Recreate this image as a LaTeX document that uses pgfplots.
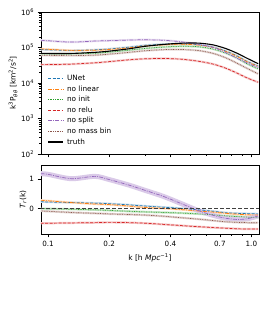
\documentclass[border=0pt]{standalone}
\usepackage{pgfplots}
\pgfplotsset{compat=1.18}
\usepackage{pgfplotstable}
\usepackage{fontspec}
\setmainfont{DejaVu Sans}
\definecolor{tblue}{HTML}{1F77B4}
\definecolor{torange}{HTML}{FF7F0E}
\definecolor{tgreen}{HTML}{2CA02C}
\definecolor{tred}{HTML}{D62728}
\definecolor{tpurple}{HTML}{9467BD}
\definecolor{tbrown}{HTML}{8C564B}

\pgfplotstableread{
k      truth  unet  nolin  noinit norelu nosplit nomass
0.092  6.8e4  8.8e4 9.1e4  6.6e4  3.3e4  16.0e4  6.0e4
0.100  6.8e4  8.6e4 8.9e4  6.6e4  3.3e4  15.5e4  6.0e4
0.130  6.8e4  8.3e4 8.3e4  6.6e4  3.4e4  14.2e4  5.9e4
0.170  7.3e4  8.6e4 8.4e4  6.9e4  3.7e4  15.2e4  6.1e4
0.200  7.9e4  9.1e4 8.8e4  7.4e4  4.0e4  15.6e4  6.5e4
0.250  9.2e4  10.2e4 9.8e4 8.4e4  4.5e4  16.2e4  7.3e4
0.300  10.8e4 11.5e4 11.0e4 9.4e4 4.8e4  16.5e4  8.1e4
0.370  12.2e4 12.4e4 11.9e4 10.3e4 4.9e4 16.0e4  8.7e4
0.450  13.2e4 12.6e4 12.3e4 10.8e4 4.7e4 14.5e4  8.8e4
0.550  13.3e4 12.0e4 11.7e4 10.5e4 4.1e4 12.3e4  8.2e4
0.650  11.8e4 10.2e4 10.0e4 9.0e4  3.4e4  10.0e4  6.8e4
0.750  9.3e4  7.9e4 7.7e4  6.9e4  2.6e4  7.2e4   5.1e4
0.850  6.9e4  5.8e4 5.6e4  5.0e4  1.9e4  5.0e4   3.6e4
0.950  5.0e4  4.1e4 4.0e4  3.5e4  1.4e4  3.7e4   2.6e4
1.080  3.5e4  3.0e4 2.9e4  2.5e4  1.05e4 2.7e4   1.8e4
}\toptable

\pgfplotstableread{
k      unet  nolin  noinit norelu nosplit nomass
0.092  0.23  0.28  -0.01  -0.51  1.19   -0.09
0.100  0.22  0.26  -0.01  -0.51  1.17   -0.10
0.130  0.20  0.20  -0.03  -0.50  1.02   -0.14
0.170  0.18  0.15  -0.05  -0.49  1.10   -0.17
0.200  0.16  0.13  -0.07  -0.48  0.99   -0.19
0.250  0.12  0.08  -0.10  -0.49  0.80   -0.21
0.300  0.08  0.03  -0.12  -0.51  0.62   -0.23
0.370  0.04  0.00  -0.14  -0.55  0.41   -0.27
0.450  0.00  -0.04 -0.16  -0.59  0.17   -0.32
0.550  -0.05 -0.09 -0.19  -0.63  -0.08  -0.37
0.650  -0.10 -0.13 -0.22  -0.66  -0.24  -0.42
0.750  -0.15 -0.17 -0.26  -0.68  -0.34  -0.46
0.850  -0.17 -0.20 -0.28  -0.70  -0.38  -0.48
0.950  -0.18 -0.22 -0.30  -0.71  -0.36  -0.49
1.080  -0.19 -0.23 -0.31  -0.71  -0.26  -0.49
}\bottable

\tikzset{
  band/.style={line width=2.2pt},
  dsh/.style={dash pattern=on 3pt off 1.5pt},
  dshdot/.style={dash pattern=on 4pt off 1.2pt on 1pt off 1.2pt},
  dtt/.style={dash pattern=on 0.8pt off 0.9pt},
}
\pgfplotsset{legend image code/.code={\draw[#1] (0pt,0pt) -- (15pt,0pt);}}

\begin{document}
\begin{tikzpicture}
\path (0,0) rectangle (266pt,319pt);
% top panel
\begin{axis}[
  scale only axis, width=218pt,
  xmode=log, xmin=0.0924, xmax=1.09,
  xtick={0.1,0.2,0.4,0.7,1.0},
  minor xtick={0.3,0.5,0.6,0.8,0.9},
  xtick pos=bottom, ytick pos=left,
  tick align=outside,
  major tick length=3.5pt, minor tick length=2pt,
  every tick/.style={black, line width=0.5pt},
  axis line style={line width=0.6pt},
  tick label style={font=\fontsize{7.2}{8}\selectfont},
  label style={font=\fontsize{7.5}{9}\selectfont},
  at={(41pt,165pt)}, anchor=south west, height=142pt,
  ymode=log, ymin=1e2, ymax=1e6,
  ytick={1e2,1e3,1e4,1e5,1e6},
  yticklabels={10\textsuperscript{2},10\textsuperscript{3},10\textsuperscript{4},10\textsuperscript{5},10\textsuperscript{6}},
  minor ytick={2e2,3e2,4e2,5e2,6e2,7e2,8e2,9e2,2e3,3e3,4e3,5e3,6e3,7e3,8e3,9e3,2e4,3e4,4e4,5e4,6e4,7e4,8e4,9e4,2e5,3e5,4e5,5e5,6e5,7e5,8e5,9e5},
  xticklabels={},
  ylabel={k\textsuperscript{3}P\textsubscript{\textit{θθ}} [km\textsuperscript{2}/s\textsuperscript{2}]},
  ylabel style={at={(axis description cs:-0.128,0.5)}, anchor=center},
  legend style={at={(axis description cs:0.015,0.585)}, anchor=north west, draw=none, fill=none,
    font=\fontsize{7.3}{8}\selectfont, cells={anchor=west},
    nodes={inner xsep=3.5pt, inner ysep=1.7pt, text height=5.6pt, text depth=1.6pt}},
]
\addplot[band, tblue!22, smooth, forget plot] table[x=k,y=unet]{\toptable};
\addplot[band, torange!22, smooth, forget plot] table[x=k,y=nolin]{\toptable};
\addplot[band, tgreen!22, smooth, forget plot] table[x=k,y=noinit]{\toptable};
\addplot[band, tred!22, smooth, forget plot] table[x=k,y=norelu]{\toptable};
\addplot[band, tpurple!22, smooth, forget plot] table[x=k,y=nosplit]{\toptable};
\addplot[band, tbrown!22, smooth, forget plot] table[x=k,y=nomass]{\toptable};
\addplot[tblue, line width=0.7pt, dsh, smooth] table[x=k,y=unet]{\toptable};
\addlegendentry{UNet}
\addplot[torange, line width=0.7pt, dshdot, smooth] table[x=k,y=nolin]{\toptable};
\addlegendentry{no linear}
\addplot[tgreen, line width=0.7pt, dtt, smooth] table[x=k,y=noinit]{\toptable};
\addlegendentry{no init}
\addplot[tred, line width=0.7pt, dsh, smooth] table[x=k,y=norelu]{\toptable};
\addlegendentry{no relu}
\addplot[tpurple, line width=0.7pt, dshdot, smooth] table[x=k,y=nosplit]{\toptable};
\addlegendentry{no split}
\addplot[tbrown, line width=0.7pt, dtt, smooth] table[x=k,y=nomass]{\toptable};
\addlegendentry{no mass bin}
\addplot[black, line width=1.1pt, smooth] table[x=k,y=truth]{\toptable};
\addlegendentry{truth}
\end{axis}
% bottom panel
\begin{axis}[
  scale only axis, width=218pt,
  xmode=log, xmin=0.0924, xmax=1.09,
  xtick={0.1,0.2,0.4,0.7,1.0},
  xticklabels={0.1,0.2,0.4,0.7,1.0},
  minor xtick={0.3,0.5,0.6,0.8,0.9},
  xtick pos=bottom, ytick pos=left,
  tick align=outside,
  major tick length=3.5pt, minor tick length=2pt,
  every tick/.style={black, line width=0.5pt},
  axis line style={line width=0.6pt},
  tick label style={font=\fontsize{7.2}{8}\selectfont},
  label style={font=\fontsize{7.5}{9}\selectfont},
  at={(41pt,85pt)}, anchor=south west, height=69pt,
  ymin=-0.88, ymax=1.49,
  ytick={0,1}, yticklabels={0,1},
  ylabel={\textit{T}\textsubscript{\textit{r}}(k)},
  ylabel style={at={(axis description cs:-0.083,0.5)}, anchor=center},
  xlabel={k [h \textit{Mpc}\textsuperscript{−1}]},
  xlabel style={at={(axis description cs:0.5,-0.35)}, anchor=center},
]
\addplot[band, tblue!25, smooth] table[x=k,y=unet]{\bottable};
\addplot[band, torange!25, smooth] table[x=k,y=nolin]{\bottable};
\addplot[band, tgreen!25, smooth] table[x=k,y=noinit]{\bottable};
\addplot[band, tred!25, smooth] table[x=k,y=norelu]{\bottable};
\addplot[tpurple!35, line width=5pt, smooth] table[x=k,y=nosplit]{\bottable};
\addplot[band, tbrown!25, smooth] table[x=k,y=nomass]{\bottable};
\addplot[tblue, line width=0.7pt, dsh, smooth] table[x=k,y=unet]{\bottable};
\addplot[torange, line width=0.7pt, dshdot, smooth] table[x=k,y=nolin]{\bottable};
\addplot[tgreen, line width=0.7pt, dtt, smooth] table[x=k,y=noinit]{\bottable};
\addplot[tred, line width=0.7pt, dsh, smooth] table[x=k,y=norelu]{\bottable};
\addplot[tpurple, line width=0.7pt, dshdot, smooth] table[x=k,y=nosplit]{\bottable};
\addplot[tbrown, line width=0.7pt, dtt, smooth] table[x=k,y=nomass]{\bottable};
\addplot[black!75, line width=1.2pt, dash pattern=on 4pt off 2pt] coordinates {(0.08,0) (1.2,0)};
\end{axis}
\end{tikzpicture}
\end{document}
